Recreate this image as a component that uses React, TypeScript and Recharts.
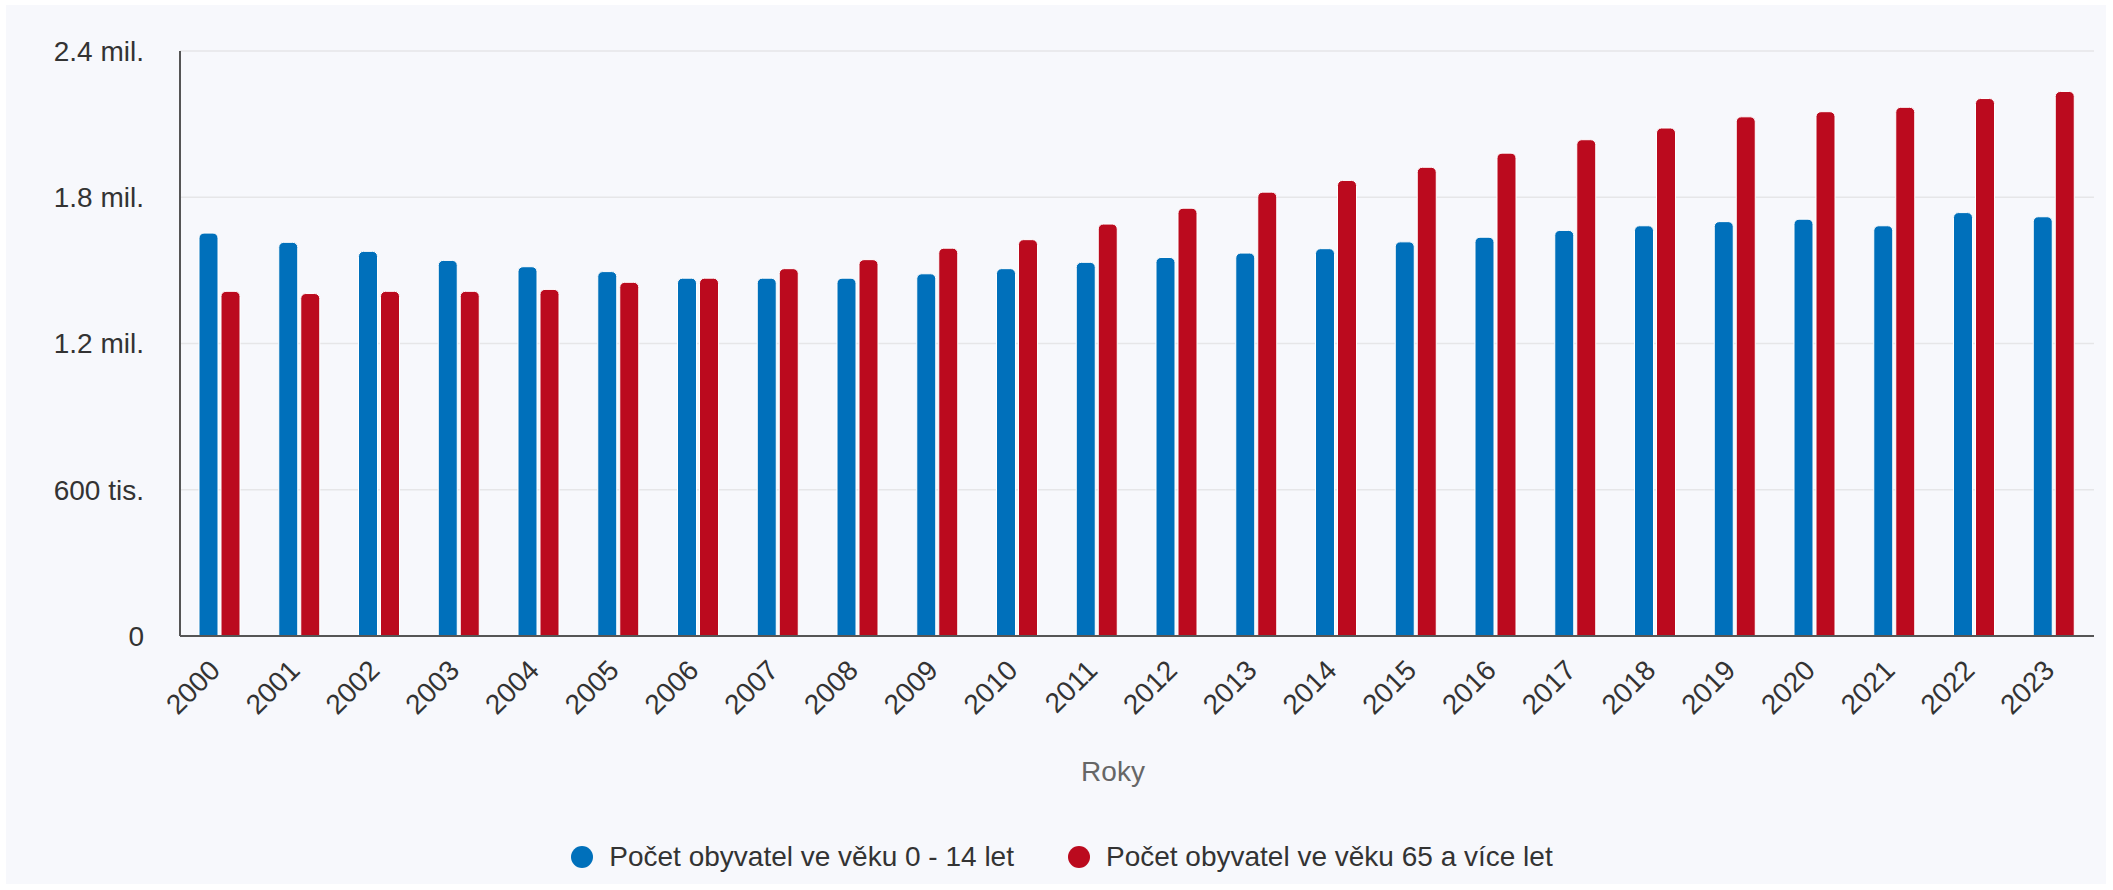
import { BarChart, Bar, XAxis, YAxis, CartesianGrid, Legend } from "recharts";

// Roky a hodnoty (počet obyvatel)
const years = [
  "2000", "2001", "2002", "2003", "2004", "2005", "2006", "2007", "2008", "2009", "2010", "2011",
  "2012", "2013", "2014", "2015", "2016", "2017", "2018", "2019", "2020", "2021", "2022", "2023",
];
const children = [
  1653000, 1615000, 1578000, 1541000, 1515000, 1495000, 1468000, 1468000, 1468000, 1486000, 1507000, 1533000,
  1553000, 1571000, 1589000, 1617000, 1636000, 1664000, 1683000, 1700000, 1710000, 1683000, 1737000, 1720000,
];
const seniors = [
  1414000, 1405000, 1414000, 1414000, 1422000, 1451000, 1468000, 1507000, 1544000, 1591000, 1626000, 1690000,
  1755000, 1821000, 1869000, 1923000, 1981000, 2036000, 2084000, 2130000, 2151000, 2169000, 2205000, 2234000,
];
const yTicks = [0, 600000, 1200000, 1800000, 2400000];
const seriesNames = ["Počet obyvatel ve věku 0 - 14 let", "Počet obyvatel ve věku 65 a více let"];
const seriesColors = ["#0070bb", "#bb0a1e"];

const data = years.map((year, i) => ({ year, children: children[i], seniors: seniors[i] }));

const FONT = "'Liberation Sans', Arial, sans-serif";

function formatY(v: number) {
  if (v === 0) return "0";
  if (v < 1000000) return `${v / 1000} tis.`;
  return `${(v / 1000000).toFixed(1)} mil.`;
}

function YearTick(props: any) {
  const { x, y, payload } = props;
  const ax = x + 2;
  const ay = y + 36;
  return (
    <text
      x={ax}
      y={ay}
      transform={`rotate(-45, ${ax}, ${ay})`}
      textAnchor="end"
      fill="#333"
      fontSize={28}
      fontFamily={FONT}
    >
      {payload.value}
    </text>
  );
}

function AxisTitle(props: any) {
  const vb = props.viewBox || {};
  return (
    <text
      x={vb.x + vb.width / 2 - 24}
      y={vb.y + 135}
      textAnchor="middle"
      dominantBaseline="central"
      fill="#666"
      fontSize={28}
      fontFamily={FONT}
    >
      Roky
    </text>
  );
}

function LegendContent() {
  return (
    <div
      style={{
        display: "flex",
        justifyContent: "center",
        alignItems: "center",
        height: 54,
        paddingLeft: 24,
        fontFamily: FONT,
        fontSize: 28,
        color: "#333",
      }}
    >
      {seriesNames.map((name, i) => (
        <span key={name} style={{ display: "flex", alignItems: "center", marginLeft: i === 0 ? 0 : 54 }}>
          <span
            style={{
              display: "inline-block",
              width: 22,
              height: 22,
              borderRadius: "50%",
              background: seriesColors[i],
              marginRight: 16,
            }}
          />
          {name}
        </span>
      ))}
    </div>
  );
}

export default function App() {
  return (
    <div style={{ position: "absolute", left: 0, top: 0, width: 2113, height: 890, background: "#ffffff" }}>
      <div style={{ position: "absolute", left: 6, top: 5, width: 2100, height: 879, background: "#f7f8fc" }}>
        <BarChart
          width={2100}
          height={879}
          data={data}
          margin={{ top: 46, right: 12, bottom: 0, left: 0 }}
          barSize={19}
          barGap={3}
        >
          <CartesianGrid vertical={false} stroke="#e6e6e8" strokeWidth={1.5} />
          <XAxis
            dataKey="year"
            height={194}
            interval={0}
            tickLine={false}
            tickSize={0}
            tickMargin={0}
            axisLine={{ stroke: "#555", strokeWidth: 2 }}
            tick={<YearTick />}
            label={<AxisTitle />}
          />
          <YAxis
            width={174}
            domain={[0, 2400000]}
            ticks={yTicks}
            tickFormatter={formatY}
            tickLine={false}
            tickSize={0}
            tickMargin={36}
            axisLine={{ stroke: "#555", strokeWidth: 2 }}
            tick={{ fill: "#333", fontSize: 28, fontFamily: FONT }}
          />
          <Legend verticalAlign="bottom" height={54} content={<LegendContent />} />
          <Bar
            dataKey="children"
            name={seriesNames[0]}
            fill={seriesColors[0]}
            stroke="#ffffff"
            strokeWidth={1}
            radius={[5, 5, 0, 0]}
            isAnimationActive={false}
          />
          <Bar
            dataKey="seniors"
            name={seriesNames[1]}
            fill={seriesColors[1]}
            stroke="#ffffff"
            strokeWidth={1}
            radius={[5, 5, 0, 0]}
            isAnimationActive={false}
          />
        </BarChart>
      </div>
    </div>
  );
}
